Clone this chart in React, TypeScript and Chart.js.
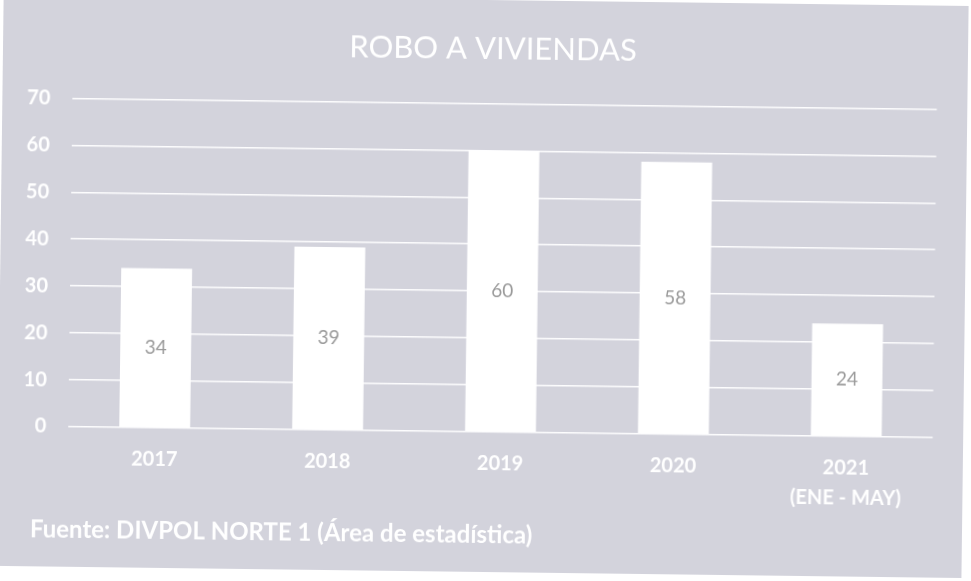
import React, { useEffect, useRef } from "react";
import { Chart, registerables } from "chart.js";

Chart.register(...registerables);

const chartTitle = "ROBO A VIVIENDAS";
const footerText = "Fuente: DIVPOL NORTE 1 (Área de estadística)";
const categories: (string | string[])[] = ["2017", "2018", "2019", "2020", ["2021", "(ENE - MAY)"]];
const robos = [34, 39, 60, 58, 24];
const yTicks = [0, 10, 20, 30, 40, 50, 60, 70];

const GREY = "rgb(211,211,220)";

const backgroundPlugin = {
  id: "scanBackground",
  beforeDraw(chart: any) {
    const { ctx, width, height } = chart;
    ctx.save();
    ctx.fillStyle = "#ffffff";
    ctx.fillRect(0, 0, width, height);
    ctx.fillStyle = GREY;
    ctx.fillRect(0, 0, width - 6, height - 9);
    ctx.restore();
  },
};

const textPlugin = {
  id: "titleFooter",
  afterDraw(chart: any) {
    const { ctx } = chart;
    ctx.save();
    ctx.fillStyle = "#ffffff";
    ctx.textBaseline = "middle";
    ctx.textAlign = "center";
    ctx.font = "normal 31px Lato";
    ctx.fillText(chartTitle, 490, 49);
    ctx.textAlign = "left";
    ctx.font = "bold 24px Lato";
    ctx.fillText(footerText, 33, 535);
    ctx.restore();
  },
};

const valueLabelPlugin = {
  id: "valueLabels",
  afterDatasetsDraw(chart: any) {
    const { ctx } = chart;
    ctx.save();
    ctx.fillStyle = "#9a9a9a";
    ctx.font = "normal 19px Lato";
    ctx.textAlign = "center";
    ctx.textBaseline = "middle";
    chart.data.datasets.forEach((ds: any, i: number) => {
      const meta = chart.getDatasetMeta(i);
      meta.data.forEach((bar: any, j: number) => {
        const { x, y, base } = bar.getProps(["x", "y", "base"], true);
        ctx.fillText(String(ds.data[j]), x, (y + base) / 2);
      });
    });
    ctx.restore();
  },
};

export default function App() {
  const ref = useRef<HTMLCanvasElement | null>(null);

  useEffect(() => {
    document.body.style.margin = "0";
    const canvas = ref.current;
    if (!canvas) return;
    const chart = new Chart(canvas, {
      type: "bar",
      data: {
        labels: categories,
        datasets: [
          {
            label: chartTitle,
            data: robos,
            backgroundColor: "#ffffff",
            borderWidth: 0,
            barPercentage: 0.41,
            categoryPercentage: 1,
          },
        ],
      },
      options: {
        animation: false,
        responsive: false,
        maintainAspectRatio: false,
        devicePixelRatio: 1,
        layout: { padding: { top: 103.5, bottom: 72.5, left: 10, right: 36.5 } },
        plugins: {
          legend: { display: false },
          title: { display: false },
          tooltip: { enabled: false },
        },
        scales: {
          x: {
            afterFit(scale: any) {
              scale.height = 76.5;
            },
            grid: { display: false, drawTicks: false },
            border: { display: false },
            ticks: {
              color: "#ffffff",
              font: { family: "Lato", size: 20, weight: "bold", lineHeight: 1.5 },
              padding: 16.5,
              maxRotation: 0,
              autoSkip: false,
            },
          },
          y: {
            min: 0,
            max: 70,
            afterBuildTicks(scale: any) {
              scale.ticks = yTicks.map((v) => ({ value: v }));
            },
            afterFit(scale: any) {
              scale.width = 60;
            },
            grid: { color: "rgba(255,255,255,0.95)", lineWidth: 1.6, drawTicks: false },
            border: { display: false },
            ticks: {
              color: "#ffffff",
              font: { family: "Lato", size: 20, weight: "bold" },
              padding: 22,
            },
          },
        },
      },
      plugins: [backgroundPlugin, valueLabelPlugin, textPlugin],
    });
    return () => chart.destroy();
  }, []);

  return (
    <div style={{ width: 971, height: 581, overflow: "hidden", background: "#ffffff" }}>
      <canvas
        ref={ref}
        width={971}
        height={581}
        style={{ display: "block", width: 971, height: 581, transform: "rotate(0.72deg)", transformOrigin: "485px 290px" }}
      />
    </div>
  );
}
